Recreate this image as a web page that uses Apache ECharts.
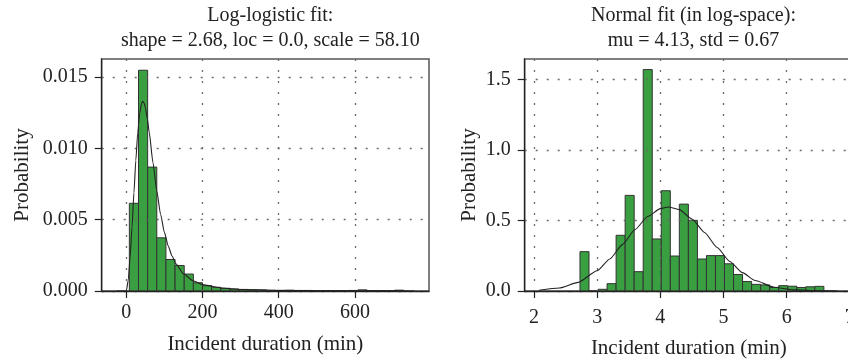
<!DOCTYPE html>
<html>
<head>
<meta charset="utf-8">
<script src="https://cdn.jsdelivr.net/npm/echarts@6/dist/echarts.min.js"></script>
<style>
html,body{margin:0;padding:0;background:#fff;}
#chart{width:848px;height:362px;}
</style>
</head>
<body>
<div id="chart"></div>
<script>
// ---- Left panel: histogram of incident duration (min) ----
var leftEdges = [8, 32, 56, 80, 104, 128, 152, 176, 200, 224, 248, 272, 296, 320, 344, 368, 392, 416, 440, 464, 488, 512, 536, 560, 584, 608, 632, 656, 680, 704, 728];
var leftProb = [0.00615, 0.01548, 0.00869, 0.00373, 0.00221, 0.00179, 0.00119, 0.00058, 0.00037, 0.00026, 0.00019, 0.00014, 0.00011, 0.00009, 0.00008, 0.00006, 0.00005, 0.00006, 0.00004, 0.00004, 0.00003, 0.00003, 0.00003, 0.00002, 0.00004, 0.00008, 0.00002, 0.00002, 0.00003, 0.00006];
var leftCurveX = [-26, 0, 5, 10, 15, 20, 25, 30, 35, 40, 43, 47, 50, 55, 60, 70, 80, 90, 100, 110, 120, 130, 150, 175, 200, 250, 300, 400, 500, 600, 756];
var leftCurveY = [0, 0, 0.00075, 0.00236, 0.0045, 0.00688, 0.00917, 0.0111, 0.01246, 0.01317, 0.0133, 0.01317, 0.01287, 0.01212, 0.01115, 0.0090, 0.00701, 0.00537, 0.00411, 0.00316, 0.00245, 0.00191, 0.00121, 0.00072, 0.00045, 0.00021, 0.00011, 0.000038, 0.000017, 0.0000085, 0.000004];
var leftXTicks = [0, 200, 400, 600];
var leftYTicks = [0, 0.005, 0.010, 0.015];

// ---- Right panel: histogram of log(incident duration) ----
var rightEdges = [2.728, 2.871, 3.014, 3.157, 3.300, 3.443, 3.586, 3.729, 3.872, 4.015, 4.158, 4.301, 4.444, 4.587, 4.730, 4.873, 5.016, 5.159, 5.302, 5.445, 5.588, 5.731, 5.874, 6.017, 6.160, 6.303, 6.446, 6.589];
var rightProb = [0.279, 0.0, 0.012, 0.052, 0.395, 0.678, 0.137, 1.570, 0.369, 0.711, 0.248, 0.616, 0.501, 0.227, 0.251, 0.251, 0.193, 0.117, 0.067, 0.047, 0.043, 0.025, 0.038, 0.034, 0.025, 0.030, 0.033];
var rightCurveX = [2.08, 2.4, 2.7, 3.0, 3.2, 3.4, 3.6, 3.8, 4.0, 4.13, 4.3, 4.5, 4.7, 4.9, 5.1, 5.3, 5.5, 5.8, 6.1, 6.5, 6.81];
var rightCurveY = [0.0055, 0.021, 0.061, 0.144, 0.227, 0.329, 0.436, 0.528, 0.584, 0.596, 0.577, 0.511, 0.415, 0.308, 0.209, 0.130, 0.074, 0.027, 0.008, 0.001, 0.0002];
var rightXTicks = [2, 3, 4, 5, 6, 7];
var rightYTicks = [0, 0.5, 1.0, 1.5];

var FONT = 'Liberation Serif';
var TXT = '#222';

function bars(edges, vals) {
  return vals.map(function (v, i) { return [edges[i], edges[i + 1], v]; });
}
function pts(xs, ys) {
  return xs.map(function (x, i) { return [x, ys[i]]; });
}
function renderBar(params, api) {
  var p0 = api.coord([api.value(0), api.value(2)]);
  var p1 = api.coord([api.value(1), 0]);
  return {
    type: 'rect',
    shape: { x: p0[0], y: p0[1], width: p1[0] - p0[0], height: p1[1] - p0[1] },
    style: { fill: '#3a9f41', stroke: '#333', lineWidth: 1 }
  };
}
var gridLine = { show: true, lineStyle: { color: '#6a6a6a', width: 1.3, type: [2, 9] } };

function xAxis(idx, min, max, ticks, labelMargin, nameGap, fmt) {
  return {
    type: 'value', gridIndex: idx, min: min, max: max, z: 3,
    name: 'Incident duration (min)', nameLocation: 'middle', nameGap: nameGap,
    nameTextStyle: { fontFamily: FONT, fontSize: 21, color: TXT },
    axisLine: { show: true, onZero: false, lineStyle: { color: '#222', width: 1.3 } },
    axisTick: { show: true, length: 7, customValues: ticks, lineStyle: { color: '#222', width: 1.2 } },
    axisLabel: { customValues: ticks, margin: labelMargin, fontFamily: FONT, fontSize: 20, color: TXT, formatter: fmt },
    splitLine: gridLine
  };
}
function yAxis(idx, max, ticks, nameGap, fmt) {
  return {
    type: 'value', gridIndex: idx, min: 0, max: max, z: 3,
    name: 'Probability', nameLocation: 'middle', nameGap: nameGap,
    nameTextStyle: { fontFamily: FONT, fontSize: 21, color: TXT },
    axisLine: { show: true, onZero: false, lineStyle: { color: '#222', width: 1.3 } },
    axisTick: { show: true, length: 7, customValues: ticks, lineStyle: { color: '#222', width: 1.2 } },
    axisLabel: { customValues: ticks, margin: 14, fontFamily: FONT, fontSize: 20, color: TXT, formatter: fmt },
    splitLine: gridLine
  };
}

var chart = echarts.init(document.getElementById('chart'), null, { renderer: 'canvas' });
chart.setOption({
  animation: false,
  backgroundColor: '#fff',
  title: [
    { text: 'Log-logistic fit:\nshape = 2.68, loc = 0.0, scale = 58.10', left: 265.3, top: -2, textAlign: 'center',
      textStyle: { fontFamily: FONT, fontSize: 20, fontWeight: 'normal', color: TXT, lineHeight: 25 } },
    { text: 'Normal fit (in log-space):\nmu = 4.13, std = 0.67', left: 688.5, top: -2, textAlign: 'center',
      textStyle: { fontFamily: FONT, fontSize: 20, fontWeight: 'normal', color: TXT, lineHeight: 25 } }
  ],
  grid: [
    { left: 101.7, top: 59, width: 327.3, height: 232, outerBoundsMode: 'none', containLabel: false, show: true, borderColor: '#555', borderWidth: 1.5, backgroundColor: 'transparent' },
    { left: 524.7, top: 59, width: 328.3, height: 232, outerBoundsMode: 'none', containLabel: false, show: true, borderColor: '#555', borderWidth: 1.5, backgroundColor: 'transparent' }
  ],
  xAxis: [
    xAxis(0, -64.6, 794.5, leftXTicks, 12, 43, function (v) { return String(Math.round(v)); }),
    xAxis(1, 1.853, 7.05, rightXTicks, 17, 47, function (v) { return String(Math.round(v)); })
  ],
  yAxis: [
    yAxis(0, 0.01627, leftYTicks, 69, function (v) { return v.toFixed(3); }),
    yAxis(1, 1.645, rightYTicks, 45, function (v) { return v.toFixed(1); })
  ],
  series: [
    { type: 'custom', xAxisIndex: 0, yAxisIndex: 0, z: 1, renderItem: renderBar, encode: { x: [0, 1], y: 2 }, data: bars(leftEdges, leftProb) },
    { type: 'line', xAxisIndex: 0, yAxisIndex: 0, z: 5, showSymbol: false, smooth: 0.2, smoothMonotone: 'x',
      lineStyle: { color: '#222', width: 1.1 }, data: pts(leftCurveX, leftCurveY) },
    { type: 'custom', xAxisIndex: 1, yAxisIndex: 1, z: 1, renderItem: renderBar, encode: { x: [0, 1], y: 2 }, data: bars(rightEdges, rightProb) },
    { type: 'line', xAxisIndex: 1, yAxisIndex: 1, z: 5, showSymbol: false, smooth: 0.2, smoothMonotone: 'x',
      lineStyle: { color: '#222', width: 1.1 }, data: pts(rightCurveX, rightCurveY) }
  ]
});
</script>
</body>
</html>
